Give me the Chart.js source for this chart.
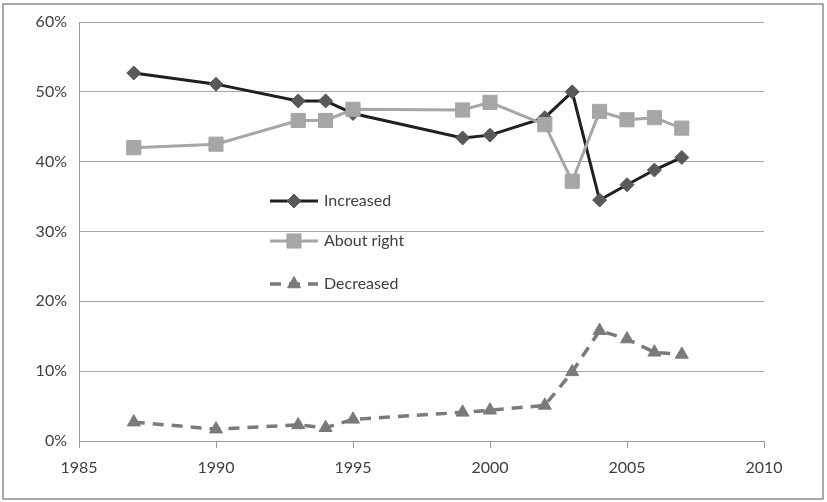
<!DOCTYPE html>
<html>
<head>
<meta charset="utf-8">
<script src="https://cdn.jsdelivr.net/npm/chart.js@4/dist/chart.umd.min.js"></script>
<style>
  html, body { margin: 0; padding: 0; background: #fff; }
  #wrap { width: 827px; height: 502px; }
</style>
</head>
<body>
<div id="wrap"><canvas id="grafico" width="827" height="502"></canvas></div>
<script>

// datos
const anios = [1987, 1990, 1993, 1994, 1995, 1999, 2000, 2002, 2003, 2004, 2005, 2006, 2007];
const aumentado = [52.7, 51.1, 48.7, 48.7, 46.9, 43.4, 43.8, 46.3, 50.0, 34.5, 36.7, 38.8, 40.6];
const correcto = [42.0, 42.5, 45.9, 45.9, 47.5, 47.4, 48.5, 45.3, 37.2, 47.2, 46.0, 46.3, 44.8];
const disminuido = [2.7, 1.7, 2.3, 1.9, 3.1, 4.1, 4.4, 5.1, 9.9, 15.8, 14.6, 12.7, 12.4];
const etiquetas = ['Increased', 'About right', 'Decreased'];

const fuente = 'Lato, "Open Sans", sans-serif';

function puntos(valores) {
    return anios.map((a, i) => ({ x: a, y: valores[i] }));
}

// leyenda dentro del area del grafico y marco exterior
const leyendaPlugin = {
    id: 'leyendaInterna',
    afterDraw(chart) {
        const ctx = chart.ctx;
        const filas = [201, 241, 284];
        chart.data.datasets.forEach((ds, i) => {
            const y = filas[i];
            ctx.save();
            ctx.strokeStyle = ds.borderColor;
            ctx.lineWidth = ds.borderWidth;
            ctx.setLineDash(ds.borderDash || []);
            ctx.beginPath();
            ctx.moveTo(270, y);
            ctx.lineTo(318, y);
            ctx.stroke();
            ctx.setLineDash([]);
            ctx.fillStyle = ds.pointBackgroundColor;
            ctx.strokeStyle = ds.pointBorderColor;
            ctx.lineWidth = 1;
            Chart.helpers.drawPoint(ctx, {
                pointStyle: ds.pointStyle,
                radius: ds.pointRadius,
                borderWidth: 1,
                rotation: 0
            }, 294, y);
            ctx.fillStyle = '#404040';
            ctx.font = '16px ' + fuente;
            ctx.textBaseline = 'middle';
            ctx.fillText(ds.label, 324, y);
            ctx.restore();
        });

        ctx.save();
        ctx.strokeStyle = '#8c8c8c';
        ctx.lineWidth = 1.5;
        ctx.strokeRect(3, 4, 820, 495);
        ctx.restore();
    }
};

const ctxGrafico = document.getElementById('grafico');
const miGrafico = new Chart(ctxGrafico, {
    type: 'line',
    data: {
        datasets: [{
            label: etiquetas[0],
            data: puntos(aumentado),
            borderColor: '#1f1f1f',
            borderWidth: 3,
            pointStyle: 'rectRot',
            pointRadius: 7,
            pointBorderWidth: 1,
            pointBackgroundColor: '#595959',
            pointBorderColor: '#595959',
            order: 1
        }, {
            label: etiquetas[1],
            data: puntos(correcto),
            borderColor: '#a6a6a6',
            borderWidth: 3,
            pointStyle: 'rect',
            pointRadius: 10,
            pointBorderWidth: 1,
            pointBackgroundColor: '#a6a6a6',
            pointBorderColor: '#a6a6a6',
            order: 0
        }, {
            label: etiquetas[2],
            data: puntos(disminuido),
            borderColor: '#7a7a7a',
            borderWidth: 3.5,
            borderDash: [11, 8],
            pointStyle: 'triangle',
            pointRadius: 7.5,
            pointBorderWidth: 1,
            pointBackgroundColor: '#7a7a7a',
            pointBorderColor: '#7a7a7a',
            order: 2
        }]
    },
    options: {
        responsive: false,
        animation: false,
        devicePixelRatio: 1,
        layout: {
            padding: { left: 0, top: 22, right: 63, bottom: 0 }
        },
        plugins: {
            legend: { display: false },
            tooltip: { enabled: false }
        },
        scales: {
            x: {
                type: 'linear',
                min: 1985,
                max: 2010,
                ticks: {
                    stepSize: 5,
                    color: '#404040',
                    padding: 10,
                    font: { family: fuente, size: 16 },
                    callback: v => String(v)
                },
                grid: {
                    drawOnChartArea: false,
                    drawTicks: true,
                    tickLength: 7,
                    color: '#999999'
                },
                border: { color: '#999999' },
                afterFit: s => { s.height = 61; }
            },
            y: {
                min: 0,
                max: 60,
                ticks: {
                    stepSize: 10,
                    color: '#404040',
                    padding: 12,
                    font: { family: fuente, size: 16 },
                    callback: v => v + '%'
                },
                grid: {
                    color: '#a6a6a6',
                    drawTicks: false
                },
                border: { color: '#999999' },
                afterFit: s => { s.width = 79; }
            }
        }
    },
    plugins: [leyendaPlugin]
});

</script>
</body>
</html>
